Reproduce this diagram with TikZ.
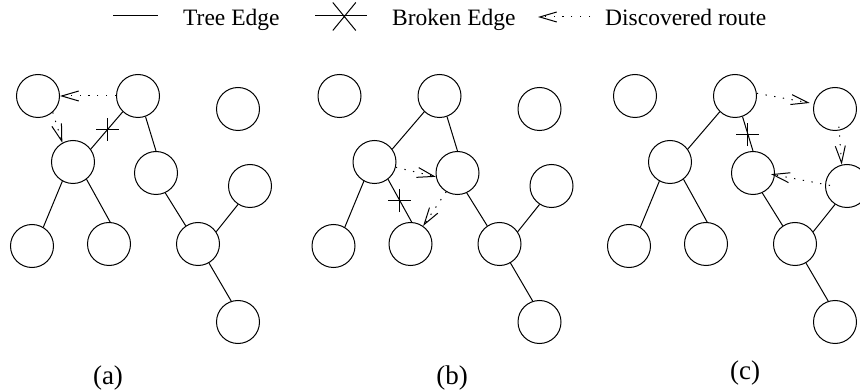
\documentclass[tikz,border=0pt]{standalone}
\usepackage{fontspec}
\setmainfont{Liberation Serif}
\usetikzlibrary{arrows.meta}
\newcommand\treepanel{%
  \node[vtx] (v1) at (38,96) {};
  \node[vtx] (v2) at (138,96) {};
  \node[vtx] (v3) at (238,109) {};
  \node[vtx] (v4) at (73,162) {};
  \node[vtx] (v5) at (156,173) {};
  \node[vtx] (v6) at (250,186) {};
  \node[vtx] (v7) at (32,246) {};
  \node[vtx] (v8) at (109,244) {};
  \node[vtx] (v9) at (198,244) {};
  \node[vtx] (v10) at (238,322) {};
  \draw[treeedge] (v2.-134) -- (v4.36);
  \draw[treeedge] (v2.-70) -- (v5.90);
  \draw[treeedge] (v4.-119) -- (v7.59);
  \draw[treeedge] (v4.-52) -- (v8.87);
  \draw[treeedge] (v5.-65) -- (v9.124);
  \draw[treeedge] (v6.-123) -- (v9.34);
  \draw[treeedge] (v9.-60) -- (v10.108);
}
\newcommand\brokenmark[1]{%
  \draw[brk] ([xshift=-11.5pt]#1) -- ([xshift=11.5pt]#1)
             ([yshift=-11.5pt]#1) -- ([yshift=11.5pt]#1);
}
\begin{document}
\begin{tikzpicture}[x=1pt,y=-1pt,
  vtx/.style={circle,draw,line width=1pt,minimum size=43pt,inner sep=0pt},
  treeedge/.style={line width=1pt},
  brk/.style={line width=1pt},
  route/.style={line width=1pt,dash pattern=on 1.3pt off 7.5pt,
    -{Straight Barb[length=17pt,width=10pt,line width=1pt]}},
  legtext/.style={anchor=base west,inner sep=0pt,font=\fontsize{23.5}{28}\selectfont},
  lbl/.style={anchor=base,inner sep=0pt,font=\fontsize{27}{32}\selectfont}]
\useasboundingbox (0,0) rectangle (860,390);
\clip (0,0) rectangle (860,390);

% legend
\coordinate (t1) at (113,16);
\coordinate (t2) at (158,16);
\draw[treeedge] (t1) -- (t2);
\node[legtext] (ttree) at (183,26) {Tree Edge};
\coordinate (b1) at (315,16);
\coordinate (b2) at (367,16);
\coordinate (bx) at (344.3,16.5);
\draw[treeedge] (b1) -- (b2);
\draw[brk] ([shift={(-11.5,-14)}]bx) -- ([shift={(11.5,14)}]bx)
           ([shift={(11.5,-14)}]bx) -- ([shift={(-11.5,14)}]bx);
\node[legtext] (tbroken) at (392,26) {Broken Edge};
\coordinate (r1) at (590,17);
\coordinate (r2) at (538,17);
\draw[route] (r1) -- (r2);
\node[legtext] (troute) at (605,26) {Discovered route};

% panel (a)
\begin{scope}[name prefix=a-]
  \treepanel
  \path (v2.-134) -- coordinate[pos=0.47] (mk) (v4.36);
  \brokenmark{mk}
  \draw[route] (v2.180) -- (v1.0);
  \draw[route] (v1.-48) -- (v4.119);
\end{scope}

% panel (b)
\begin{scope}[xshift=301.5pt,name prefix=b-]
  \treepanel
  \path (v4.-52) -- coordinate[pos=0.5] (mk) (v8.87);
  \brokenmark{mk}
  \draw[route] (v4.-14) -- (v5.190);
  \draw[route] (v5.-121) -- (v8.55);
\end{scope}

% panel (c)
\begin{scope}[xshift=597pt,name prefix=c-]
  \treepanel
  \path (v2.-70) -- coordinate[pos=0.52] (mk) (v5.90);
  \brokenmark{mk}
  \draw[route,shorten >=4pt] (v2.7) -- (v3.166);
  \draw[route,shorten <=-4pt] (v3.-79) -- (v6.104);
  \draw[route,shorten <=-5pt,shorten >=-4pt] (v6.176) -- (v5.-5);
\end{scope}

% labels
\node[lbl] (la) at (108,384) {(a)};
\node[lbl] (lb) at (452,384) {(b)};
\node[lbl] (lc) at (745,379) {(c)};
\end{tikzpicture}
\end{document}
